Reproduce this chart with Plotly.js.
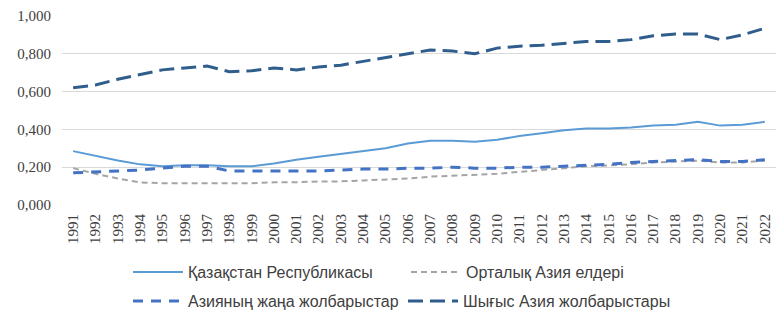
<!DOCTYPE html>
<html><head><meta charset="utf-8">
<script src="https://cdn.plot.ly/plotly-3.0.1.min.js"></script>
<style>html,body{margin:0;padding:0;background:#fff}#c{width:782px;height:310px}</style>
</head><body><div id="c"></div>
<script>
const years = ["1991","1992","1993","1994","1995","1996","1997","1998","1999","2000","2001","2002","2003","2004","2005","2006","2007","2008","2009","2010","2011","2012","2013","2014","2015","2016","2017","2018","2019","2020","2021","2022"];
const kazakhstan = [0.285,0.26,0.235,0.215,0.205,0.21,0.21,0.205,0.205,0.22,0.24,0.255,0.27,0.285,0.30,0.325,0.34,0.34,0.335,0.345,0.365,0.38,0.395,0.405,0.405,0.41,0.42,0.425,0.44,0.42,0.425,0.44];
const centralAsia = [0.195,0.165,0.14,0.12,0.115,0.115,0.115,0.115,0.115,0.12,0.12,0.125,0.125,0.13,0.135,0.14,0.15,0.155,0.16,0.165,0.175,0.185,0.195,0.205,0.21,0.215,0.225,0.23,0.235,0.225,0.225,0.235];
const newTigers = [0.17,0.175,0.18,0.185,0.195,0.205,0.205,0.18,0.18,0.18,0.18,0.18,0.185,0.19,0.19,0.195,0.195,0.20,0.195,0.195,0.20,0.20,0.205,0.21,0.215,0.225,0.23,0.235,0.24,0.23,0.23,0.24];
const eastTigers = [0.62,0.635,0.665,0.69,0.715,0.725,0.735,0.705,0.71,0.725,0.715,0.73,0.74,0.76,0.78,0.80,0.82,0.815,0.80,0.83,0.84,0.845,0.855,0.865,0.865,0.875,0.895,0.905,0.905,0.875,0.90,0.935];
const names = ["Қазақстан Республикасы","Орталық Азия елдері","Азияның жаңа жолбарыстар","Шығыс Азия жолбарыстары"];

const traces = [
  {x: years, y: kazakhstan, name: names[0], mode: 'lines', legend: 'legend', line: {color: '#5B9BD5', width: 2}},
  {x: years, y: centralAsia, name: names[1], mode: 'lines', legend: 'legend2', line: {color: '#A5A5A5', width: 2, dash: '6px,4px'}},
  {x: years, y: newTigers, name: names[2], mode: 'lines', legend: 'legend3', line: {color: '#4472C4', width: 3, dash: '10px,8px'}},
  {x: years, y: eastTigers, name: names[3], mode: 'lines', legend: 'legend4', line: {color: '#2F5D8C', width: 3, dash: '15px,7px'}}
];
const legFont = {family: "'Liberation Sans', Arial, sans-serif", size: 16, color: '#404040'};
function leg(xpx, ypx) {
  return {orientation: 'h', xref: 'container', yref: 'container', x: xpx / 782, y: 1 - ypx / 310,
          xanchor: 'left', yanchor: 'middle', itemwidth: 50, font: legFont, bgcolor: 'rgba(0,0,0,0)', borderwidth: 0};
}
const serif = "'Liberation Serif', 'Times New Roman', serif";
const layout = {
  width: 782, height: 310,
  margin: {l: 62, r: 6, t: 16, b: 105},
  paper_bgcolor: '#fff', plot_bgcolor: '#fff',
  separators: ',.',
  showlegend: true,
  xaxis: {type: 'category', range: [-0.5, 31.5], tickangle: -90, showgrid: false, showline: false, ticks: '',
          ticklabelstandoff: 5,
          tickfont: {family: serif, size: 15, color: '#404040'}},
  yaxis: {range: [0, 1.0], dtick: 0.2, tickformat: '.3f', gridcolor: '#D9D9D9', gridwidth: 1,
          zeroline: false, showline: false, ticks: '', ticklabelstandoff: 10,
          tickfont: {family: serif, size: 15, color: '#404040'}},
  legend: leg(128, 272),
  legend2: leg(406, 272),
  legend3: leg(128, 301),
  legend4: leg(403, 301)
};
Plotly.newPlot('c', traces, layout, {displayModeBar: false, staticPlot: true});
</script></body></html>
